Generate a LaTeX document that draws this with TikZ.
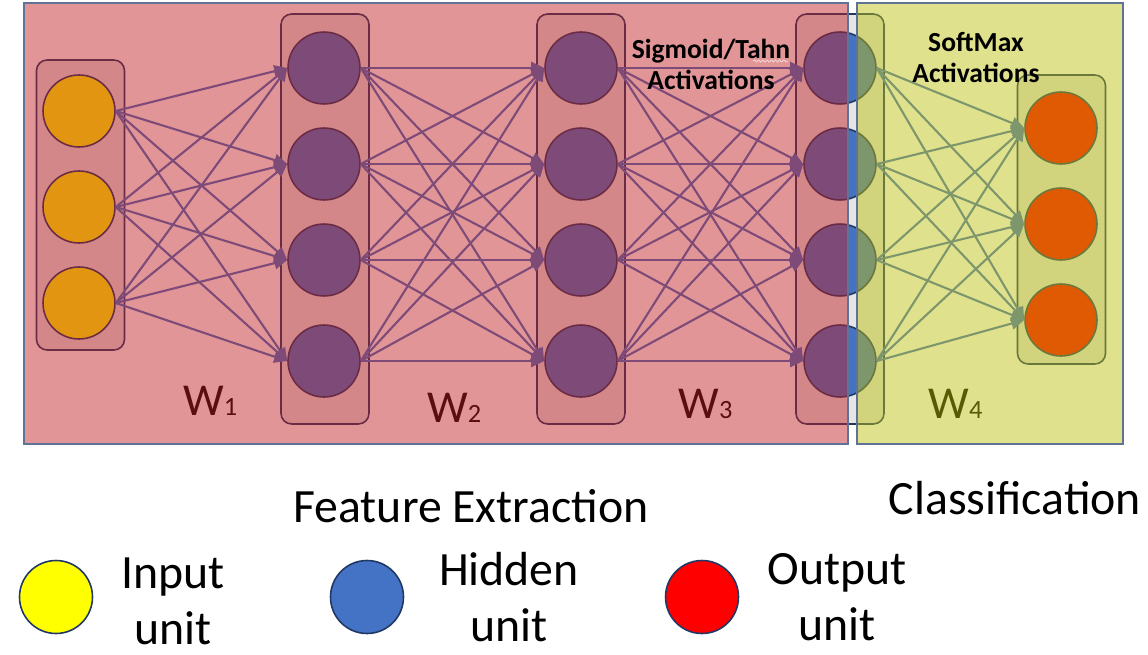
\documentclass[tikz,border=0pt]{standalone}
\usepackage{fontspec}
\setmainfont{Carlito}
\usetikzlibrary{arrows.meta,decorations.pathmorphing}
\definecolor{unitblue}{RGB}{68,114,196}
\definecolor{unityellow}{RGB}{255,255,0}
\definecolor{unitred}{RGB}{255,0,0}
\definecolor{navy}{RGB}{32,56,100}
\definecolor{wash}{RGB}{192,30,34}
\definecolor{mustard}{RGB}{190,192,10}
\definecolor{frame}{RGB}{95,115,150}
\tikzset{
  >={Triangle[length=2.6mm,width=2.4mm]},
  unit/.style={circle,draw=navy,line width=0.9pt,fill=#1,minimum size=14.4mm,inner sep=0pt},
  unit/.default=unitblue,
  col/.style={draw=navy,line width=0.9pt,fill=black!10,rounded corners=6pt,
    minimum width=17.6mm,inner sep=0pt},
  wire/.style={->,line width=1.2pt,draw=unitblue},
  panel/.style={fill=#1,fill opacity=0.47,draw=frame,line width=0.8pt},
  wlab/.style={anchor=base west,inner sep=0pt,font=\fontsize{26}{30}\selectfont},
  act/.style={align=center,inner sep=0pt,font=\fontsize{15.7}{17.6}\selectfont\bfseries},
  big/.style={inner sep=0pt,font=\fontsize{27.2}{31.9}\selectfont},
}

\begin{document}
\begin{tikzpicture}[x=0.02cm,y=-0.02cm]
  \useasboundingbox (0,0) rectangle (1148,655);
  % layer boxes
  \node[col,minimum height=58mm] (colIn) at (80.5,205) {};
  \node[col,minimum height=82mm] (colA) at (325,219) {};
  \node[col,minimum height=82mm] (colB) at (581,219) {};
  \node[col,minimum height=82mm] (colC) at (840,219) {};
  \node[col,minimum height=57.8mm] (colOut) at (1061.5,219.5) {};
  % units
  \foreach \y [count=\i] in {111,207,303}
    \node[unit=unityellow] (in\i) at (79,\y) {};
  \foreach \y [count=\i] in {68,164,260,361} {
    \node[unit] (ha\i) at (324,\y) {};
    \node[unit] (hb\i) at (581,\y) {};
    \node[unit] (hc\i) at (840,\y) {};
  }
  \foreach \y [count=\i] in {128,224,320}
    \node[unit=unitred] (out\i) at (1061,\y) {};
  % weights
  \foreach \i in {1,2,3}
    \foreach \j in {1,...,4}
      \draw[wire] (in\i.east) -- (ha\j.west);
  \foreach \i in {1,...,4}
    \foreach \j in {1,...,4} {
      \draw[wire] (ha\i.east) -- (hb\j.west);
      \draw[wire] (hb\i.east) -- (hc\j.west);
    }
  \foreach \i in {1,...,4}
    \foreach \j in {1,2,3}
      \draw[wire] (hc\i.east) -- (out\j.west);
  \node[wlab] (w1) at (183,415) {W\fontsize{15}{18}\selectfont 1};
  \node[wlab] (w2) at (427,422) {W\fontsize{15}{18}\selectfont 2};
  \node[wlab] (w3) at (678,418) {W\fontsize{15}{18}\selectfont 3};
  \node[wlab] (w4) at (928,418) {W\fontsize{15}{18}\selectfont 4};
  % tinted panels
  \draw[panel=wash] (24,3) rectangle (848,444);
  \draw[panel=mustard] (857,3) rectangle (1123,444);
  \node[act] (sigAct) at (711,64) {Sigmoid/Tahn\\Activations};
  \draw[wash!20,line width=0.5pt,decorate,decoration={snake,amplitude=0.6pt,segment length=2.4pt}]
    (753,61) -- (788,61);
  \node[act] (softAct) at (976,57.5) {SoftMax\\Activations};
  \node[big,anchor=base] (featLbl) at (471,522) {Feature Extraction};
  \node[big,anchor=base] (clsLbl) at (1015,514) {Classification};
  % legend
  \node[unit=unityellow,minimum size=14.6mm] (keyIn) at (56,597) {};
  \node[unit,minimum size=14.6mm] (keyHid) at (367,597) {};
  \node[unit=unitred,minimum size=14.6mm] (keyOut) at (702,597) {};
  \node[big,align=center] (keyInLbl) at (173,601) {Input\\unit};
  \node[big,align=center] (keyHidLbl) at (509,597) {Hidden\\unit};
  \node[big,align=center] (keyOutLbl) at (837,597) {Output\\unit};
\end{tikzpicture}
\end{document}
